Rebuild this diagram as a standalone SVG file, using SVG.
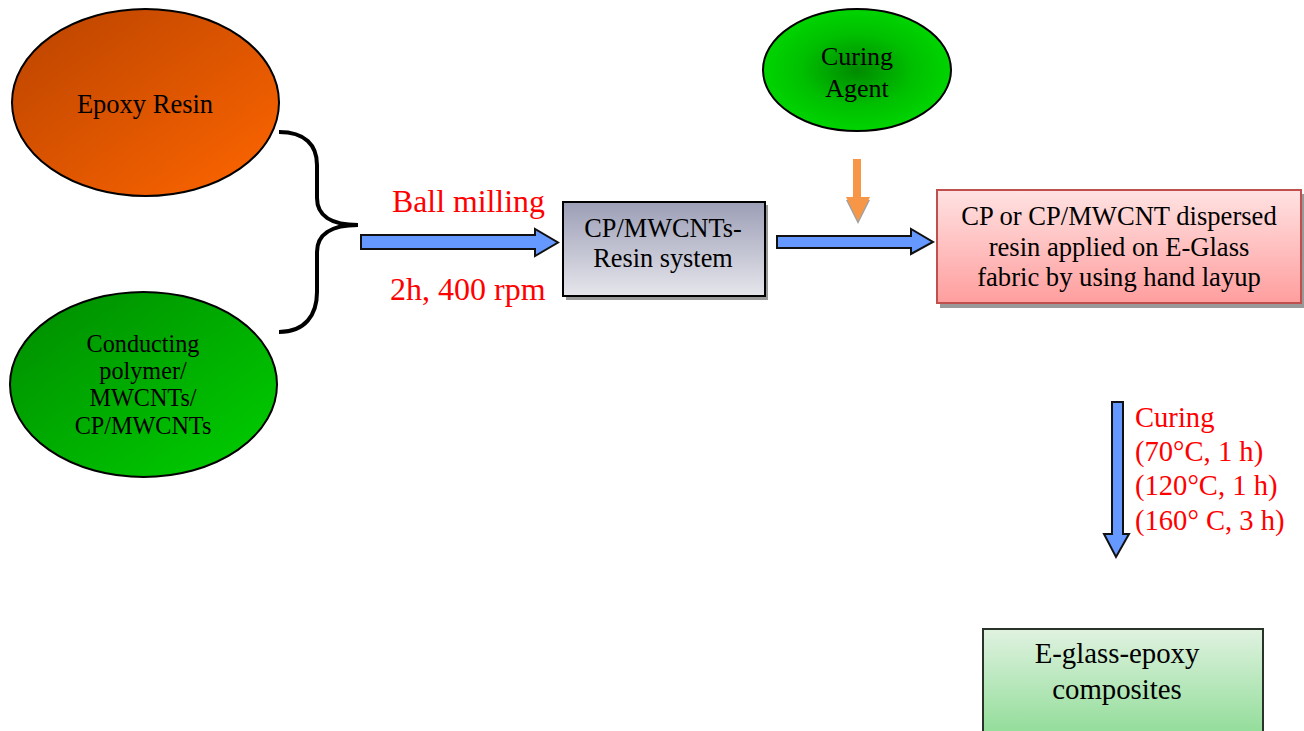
<svg xmlns="http://www.w3.org/2000/svg" width="1304" height="731" viewBox="0 0 1304 731">
<defs>
<linearGradient id="gEpoxy" x1="0" y1="0" x2="1" y2="1">
<stop offset="0" stop-color="#b94300"/><stop offset="1" stop-color="#ff6600"/>
</linearGradient>
<linearGradient id="gCond" x1="0" y1="0" x2="1" y2="1">
<stop offset="0" stop-color="#008a00"/><stop offset="1" stop-color="#00d000"/>
</linearGradient>
<radialGradient id="gCure" cx="0.5" cy="0.5" r="0.5">
<stop offset="0" stop-color="#008a00"/><stop offset="0.6" stop-color="#00c000"/><stop offset="1" stop-color="#00d400"/>
</radialGradient>
<linearGradient id="gGray" x1="0" y1="0" x2="0" y2="1">
<stop offset="0" stop-color="#9c9eb6"/><stop offset="1" stop-color="#e6e6ec"/>
</linearGradient>
<linearGradient id="gPink" x1="0" y1="0" x2="0" y2="1">
<stop offset="0" stop-color="#ffe2e2"/><stop offset="1" stop-color="#ff9e9e"/>
</linearGradient>
<linearGradient id="gGreenBox" x1="0" y1="0" x2="0" y2="1">
<stop offset="0" stop-color="#e0f2e0"/><stop offset="1" stop-color="#8edc96"/>
</linearGradient>
</defs>
<style>
text{font-family:"Liberation Serif","Times New Roman",serif;text-anchor:middle;fill:#000}
.node{stroke:#000;stroke-width:2}
.lbl{fill:#ff0000;text-anchor:start}
.blue{fill:#6699ff;stroke:#111;stroke-width:2;stroke-linejoin:miter}
.shadow{fill:#999999}
</style>
<rect width="1304" height="731" fill="#ffffff"/>

<g id="epoxy-resin">
<ellipse class="node" cx="145.5" cy="102.5" rx="133.5" ry="93.5" fill="url(#gEpoxy)"/>
<text x="145" y="113" font-size="26.5">Epoxy Resin</text>
</g>

<g id="conducting-polymer">
<ellipse class="node" cx="143.5" cy="384.5" rx="133.5" ry="92.5" fill="url(#gCond)"/>
<text x="143" y="352" font-size="24.2">Conducting</text>
<text x="143" y="379" font-size="24.2">polymer/</text>
<text x="143" y="406" font-size="24.2">MWCNTs/</text>
<text x="143" y="434" font-size="24.2">CP/MWCNTs</text>
</g>

<g id="curing-agent">
<ellipse class="node" cx="857" cy="70" rx="94" ry="61" fill="url(#gCure)"/>
<text x="857" y="65" font-size="26">Curing</text>
<text x="857" y="97" font-size="26">Agent</text>
</g>

<g id="resin-system">
<rect class="shadow" x="566" y="205" width="202" height="95"/>
<rect class="node" x="563" y="202" width="202" height="94" fill="url(#gGray)"/>
<text x="663" y="237" font-size="26.3">CP/MWCNTs-</text>
<text x="663" y="267" font-size="26.3">Resin system</text>
</g>

<g id="hand-layup">
<rect class="shadow" x="940" y="194" width="364" height="114"/>
<rect x="937" y="190" width="364" height="113" fill="url(#gPink)" stroke="#c0504d" stroke-width="2"/>
<text x="1119" y="225" font-size="26.6">CP or CP/MWCNT dispersed</text>
<text x="1119" y="256" font-size="26.6">resin applied on E-Glass</text>
<text x="1119" y="286" font-size="26.6">fabric by using hand layup</text>
</g>

<g id="composites">
<rect x="983" y="629" width="280" height="110" fill="url(#gGreenBox)" stroke="#2a332a" stroke-width="2"/>
<text x="1117" y="663" font-size="28.8">E-glass-epoxy</text>
<text x="1117" y="699" font-size="28.8">composites</text>
</g>

<g id="connectors">
<path d="M279,132 C305,132 317,145 317,165 L317,198 C317,215 330,225 358,225 C330,225 317,235 317,252 L317,292 C317,315 305,332 279,332" fill="none" stroke="#000" stroke-width="4"/>
<path class="blue" d="M361,235 L535,235 L535,229 L558,242.5 L535,256 L535,249 L361,249 Z"/>
<path class="blue" d="M777,236 L911,236 L911,229 L933,242 L911,254 L911,248 L777,248 Z"/>
<path d="M846,200 L870,200 L858,224 Z" fill="#a0a0a0"/>
<path d="M853,159 L861,159 L861,197 L870,197 L858,221 L846,197 L853,197 Z" fill="#f79646"/>
<path class="blue" d="M1112,402 L1123,402 L1123,534 L1129,534 L1116,557 L1104,534 L1112,534 Z"/>
</g>

<g id="labels">
<text class="lbl" x="392" y="212" font-size="31.8">Ball milling</text>
<text class="lbl" x="390" y="300" font-size="32">2h, 400 rpm</text>
<text class="lbl" x="1135" y="427" font-size="28.6">Curing</text>
<text class="lbl" x="1135" y="461" font-size="28.6">(70°C, 1 h)</text>
<text class="lbl" x="1135" y="495" font-size="28.6">(120°C, 1 h)</text>
<text class="lbl" x="1135" y="530" font-size="28.6">(160° C, 3 h)</text>
</g>
</svg>
